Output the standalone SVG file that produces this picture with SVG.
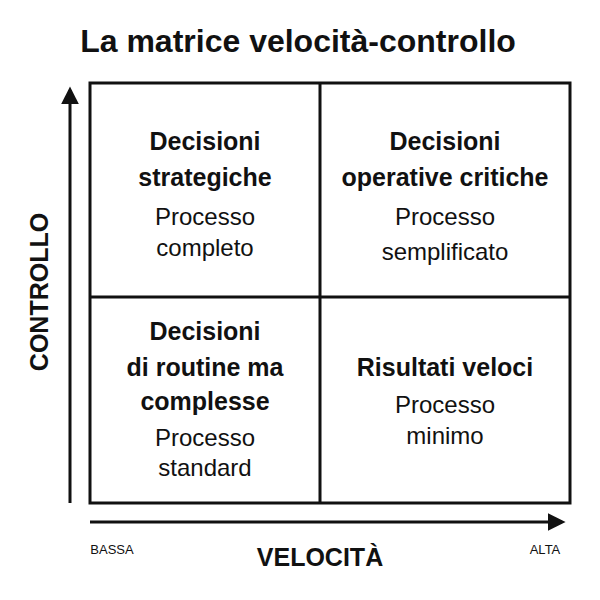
<svg xmlns="http://www.w3.org/2000/svg" width="600" height="600" viewBox="0 0 600 600">
<style>
text{font-family:"Liberation Sans",Arial,sans-serif;fill:#111;text-anchor:middle}
.h{font-size:25px;font-weight:bold}
.b{font-size:24px}
.s{font-size:13px}
.ax{stroke:#111;stroke-width:3;fill:none}
</style>
<defs><marker id="ar" viewBox="0 0 10 10" refX="8" refY="5" markerWidth="6" markerHeight="6" orient="auto"><path d="M0,0L10,5L0,10z" fill="#111"/></marker></defs>
<rect width="600" height="600" fill="#fff"/>
<text x="298" y="52" style="font-size:32px;font-weight:bold">La matrice velocità-controllo</text>
<g id="connectors">
<rect x="90" y="83" width="480" height="420" class="ax"/>
<line x1="320" y1="83" x2="320" y2="503" class="ax"/>
<line x1="90" y1="297" x2="570" y2="297" class="ax"/>
<line x1="70" y1="503" x2="70" y2="90" class="ax" marker-end="url(#ar)"/>
<line x1="90" y1="522" x2="562" y2="522" class="ax" marker-end="url(#ar)"/>
</g>
<g id="q1"><text x="205" y="150" class="h">Decisioni</text><text x="205" y="186" class="h">strategiche</text><text x="205" y="225" class="b">Processo</text><text x="205" y="256" class="b">completo</text></g>
<g id="q2"><text x="445" y="150" class="h">Decisioni</text><text x="445" y="186" class="h">operative critiche</text><text x="445" y="225" class="b">Processo</text><text x="445" y="260" class="b">semplificato</text></g>
<g id="q3"><text x="205" y="340" class="h">Decisioni</text><text x="205" y="376" class="h">di routine ma</text><text x="205" y="410" class="h">complesse</text><text x="205" y="446" class="b">Processo</text><text x="205" y="476" class="b">standard</text></g>
<g id="q4"><text x="445" y="376" class="h">Risultati veloci</text><text x="445" y="413" class="b">Processo</text><text x="445" y="444" class="b">minimo</text></g>
<g id="labels">
<text x="48" y="292" class="h" transform="rotate(-90 48 292)">CONTROLLO</text>
<text x="320" y="566" class="h">VELOCITÀ</text>
<text x="112" y="554" class="s">BASSA</text>
<text x="545" y="554" class="s">ALTA</text>
</g>
</svg>
